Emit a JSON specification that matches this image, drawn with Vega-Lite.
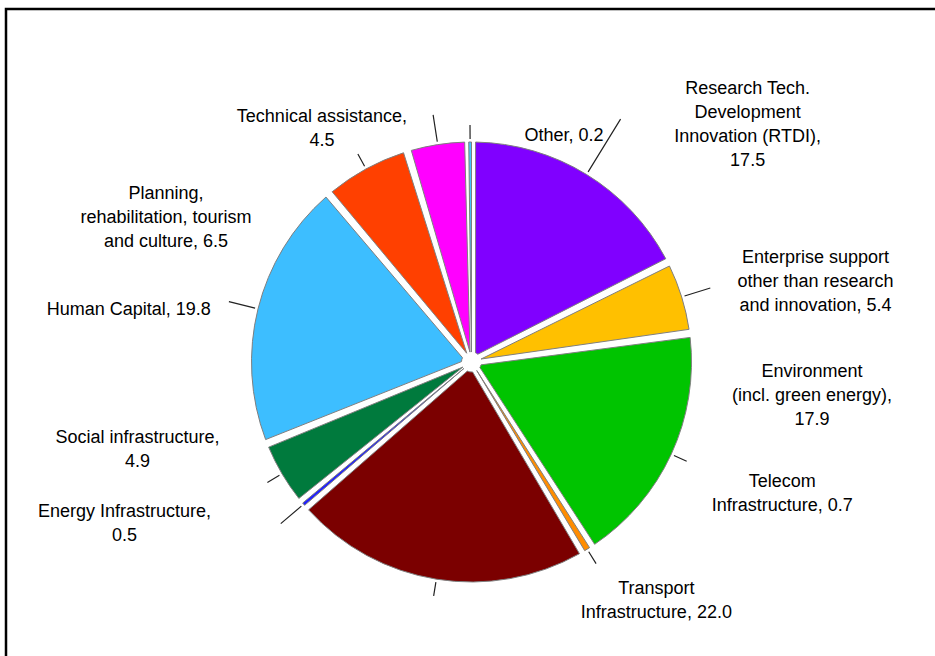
{
  "$schema": "https://vega.github.io/schema/vega-lite/v6.json",
  "autosize": {"type": "none"},
  "padding": {"left": 6, "top": 9, "right": 0, "bottom": 0},
  "width": 931,
  "height": 706,
  "background": "white",
  "view": {"stroke": "black", "strokeWidth": 2.5},
  "data": {
    "values": [
      {"cat": "RTDI", "label": "Research Tech.\nDevelopment\nInnovation (RTDI),\n17.5", "value": 17.5, "order": 1},
      {"cat": "Enterprise", "label": "Enterprise support\nother than research\nand innovation, 5.4", "value": 5.4, "order": 2},
      {"cat": "Environment", "label": "Environment\n(incl. green energy),\n17.9", "value": 17.9, "order": 3},
      {"cat": "Telecom", "label": "Telecom\nInfrastructure, 0.7", "value": 0.7, "order": 4},
      {"cat": "Transport", "label": "Transport\nInfrastructure, 22.0", "value": 22.0, "order": 5},
      {"cat": "Energy", "label": "Energy Infrastructure,\n0.5", "value": 0.5, "order": 6},
      {"cat": "Social", "label": "Social infrastructure,\n4.9", "value": 4.9, "order": 7},
      {"cat": "Human", "label": "Human Capital, 19.8", "value": 19.8, "order": 8},
      {"cat": "Planning", "label": "Planning,\nrehabilitation, tourism\nand culture, 6.5", "value": 6.5, "order": 9},
      {"cat": "Technical", "label": "Technical assistance,\n4.5", "value": 4.5, "order": 10},
      {"cat": "Other", "label": "Other, 0.2", "value": 0.2, "order": 11}
    ]
  },
  "encoding": {
    "theta": {"field": "value", "type": "quantitative", "stack": true},
    "order": {"field": "order", "type": "quantitative"},
    "detail": {"field": "cat", "type": "nominal"}
  },
  "layer": [
    {
      "mark": {"type": "arc", "radius": 220, "radius2": 10, "padAngle": 0.037, "stroke": "#7f7f7f", "strokeWidth": 1},
      "encoding": {
        "color": {"field": "cat", "type": "nominal", "legend": null,
          "scale": {"domain": ["RTDI", "Enterprise", "Environment", "Telecom", "Transport", "Energy", "Social", "Human", "Planning", "Technical", "Other"],
                    "range": ["#8000FF", "#FFC000", "#00C400", "#FF8C00", "#7B0000", "#2020FF", "#007A3D", "#3DBEFF", "#FF4000", "#FF00FF", "#40C8FF"]}},
        "opacity": {"condition": {"test": "datum.value < 1", "value": 0}, "value": 1}
      }
    },
    {
      "mark": {"type": "arc", "radius": 220, "radius2": 10, "padAngle": 0.018, "stroke": "#7f7f7f", "strokeWidth": 1},
      "encoding": {
        "color": {"field": "cat", "type": "nominal", "legend": null},
        "opacity": {"condition": {"test": "datum.cat === 'Telecom' || datum.cat === 'Energy'", "value": 1}, "value": 0}
      }
    },
    {
      "mark": {"type": "arc", "radius": 220, "radius2": 10, "padAngle": 0, "stroke": "#7f7f7f", "strokeWidth": 1},
      "encoding": {
        "color": {"field": "cat", "type": "nominal", "legend": null},
        "opacity": {"condition": {"test": "datum.cat === 'Other'", "value": 1}, "value": 0}
      }
    },
    {
      "mark": {"type": "arc", "radius": 250, "radius2": 223, "padAngle": 3, "filled": false, "stroke": "#222222", "strokeWidth": 1.2},
      "encoding": {"opacity": {"condition": {"test": "indexof(['Enterprise','Energy','Human','Technical'], datum.cat) >= 0", "value": 1}, "value": 0}}
    },
    {
      "mark": {"type": "arc", "radius": 285, "radius2": 223, "padAngle": 3, "filled": false, "stroke": "#222222", "strokeWidth": 1.2},
      "encoding": {"opacity": {"condition": {"test": "datum.cat === 'RTDI'", "value": 1}, "value": 0}}
    },
    {
      "mark": {"type": "arc", "radius": 237, "radius2": 223, "padAngle": 3, "filled": false, "stroke": "#222222", "strokeWidth": 1.2},
      "encoding": {"opacity": {"condition": {"test": "indexof(['Environment','Telecom','Transport','Social','Planning','Other'], datum.cat) >= 0", "value": 1}, "value": 0}}
    },
    {"mark": {"type": "text", "radius": 245, "dx": 148, "dy": -64, "align": "center", "baseline": "middle", "lineBreak": "\n", "font": "Liberation Sans", "fontSize": 18, "lineHeight": 24, "color": "#000000"},
     "encoding": {"text": {"condition": {"test": "datum.cat === 'RTDI'", "field": "label", "type": "nominal"}, "value": ""}}},
    {"mark": {"type": "text", "radius": 245, "dx": 110, "dy": -32, "align": "center", "baseline": "middle", "lineBreak": "\n", "font": "Liberation Sans", "fontSize": 18, "lineHeight": 24, "color": "#000000"},
     "encoding": {"text": {"condition": {"test": "datum.cat === 'Enterprise'", "field": "label", "type": "nominal"}, "value": ""}}},
    {"mark": {"type": "text", "radius": 245, "dx": 118, "dy": -93, "align": "center", "baseline": "middle", "lineBreak": "\n", "font": "Liberation Sans", "fontSize": 18, "lineHeight": 24, "color": "#000000"},
     "encoding": {"text": {"condition": {"test": "datum.cat === 'Environment'", "field": "label", "type": "nominal"}, "value": ""}}},
    {"mark": {"type": "text", "radius": 245, "dx": 182, "dy": -88, "align": "center", "baseline": "middle", "lineBreak": "\n", "font": "Liberation Sans", "fontSize": 18, "lineHeight": 24, "color": "#000000"},
     "encoding": {"text": {"condition": {"test": "datum.cat === 'Telecom'", "field": "label", "type": "nominal"}, "value": ""}}},
    {"mark": {"type": "text", "radius": 245, "dx": 224, "dy": -15, "align": "center", "baseline": "middle", "lineBreak": "\n", "font": "Liberation Sans", "fontSize": 18, "lineHeight": 24, "color": "#000000"},
     "encoding": {"text": {"condition": {"test": "datum.cat === 'Transport'", "field": "label", "type": "nominal"}, "value": ""}}},
    {"mark": {"type": "text", "radius": 245, "dx": -160, "dy": -8, "align": "center", "baseline": "middle", "lineBreak": "\n", "font": "Liberation Sans", "fontSize": 18, "lineHeight": 24, "color": "#000000"},
     "encoding": {"text": {"condition": {"test": "datum.cat === 'Energy'", "field": "label", "type": "nominal"}, "value": ""}}},
    {"mark": {"type": "text", "radius": 245, "dx": -123, "dy": -48, "align": "center", "baseline": "middle", "lineBreak": "\n", "font": "Liberation Sans", "fontSize": 18, "lineHeight": 24, "color": "#000000"},
     "encoding": {"text": {"condition": {"test": "datum.cat === 'Social'", "field": "label", "type": "nominal"}, "value": ""}}},
    {"mark": {"type": "text", "radius": 245, "dx": -105, "dy": 7, "align": "center", "baseline": "middle", "lineBreak": "\n", "font": "Liberation Sans", "fontSize": 18, "lineHeight": 24, "color": "#000000"},
     "encoding": {"text": {"condition": {"test": "datum.cat === 'Human'", "field": "label", "type": "nominal"}, "value": ""}}},
    {"mark": {"type": "text", "radius": 245, "dx": -188, "dy": 47, "align": "center", "baseline": "middle", "lineBreak": "\n", "font": "Liberation Sans", "fontSize": 18, "lineHeight": 24, "color": "#000000"},
     "encoding": {"text": {"condition": {"test": "datum.cat === 'Planning'", "field": "label", "type": "nominal"}, "value": ""}}},
    {"mark": {"type": "text", "radius": 245, "dx": -112, "dy": -3, "align": "center", "baseline": "middle", "lineBreak": "\n", "font": "Liberation Sans", "fontSize": 18, "lineHeight": 24, "color": "#000000"},
     "encoding": {"text": {"condition": {"test": "datum.cat === 'Technical'", "field": "label", "type": "nominal"}, "value": ""}}},
    {"mark": {"type": "text", "radius": 245, "dx": 94, "dy": 19, "align": "center", "baseline": "middle", "lineBreak": "\n", "font": "Liberation Sans", "fontSize": 18, "lineHeight": 24, "color": "#000000"},
     "encoding": {"text": {"condition": {"test": "datum.cat === 'Other'", "field": "label", "type": "nominal"}, "value": ""}}}
  ]
}
